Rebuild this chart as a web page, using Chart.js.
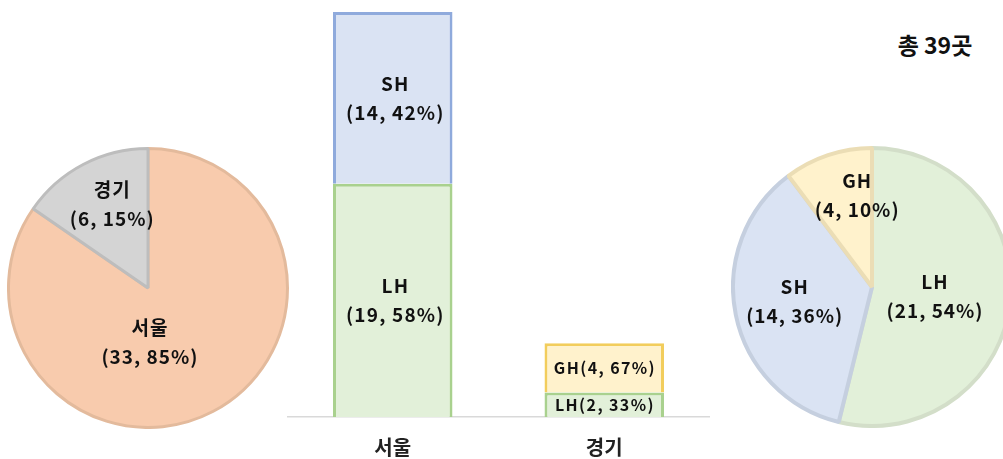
<!DOCTYPE html>
<html>
<head>
<meta charset="utf-8">
<script src="https://cdn.jsdelivr.net/npm/chart.js@4"></script>
<style>
  html, body { margin: 0; padding: 0; background: #fff; width: 1003px; height: 459px; overflow: hidden; }
  .box { position: absolute; }
  #title { position: absolute; left: 880px; top: 27px; width: 110px; text-align: center;
           font: bold 23px "Noto Sans CJK KR", sans-serif; color: #111; }
</style>
</head>
<body>
<div class="box" style="left:7px;top:147px;width:282px;height:282px;"><canvas id="regionPie"></canvas></div>
<div class="box" style="left:287px;top:0px;width:423px;height:473px;"><canvas id="stackBar"></canvas></div>
<div class="box" style="left:731px;top:146px;width:282px;height:282px;"><canvas id="agencyPie"></canvas></div>
<div id="title">총 39곳</div>
<script>
// data
const regions = ['서울', '경기'];
const regionCounts = [33, 6];

const agencies = ['LH', 'SH', 'GH'];
const lhByRegion = [19, 2];
const shByRegion = [14, 0];
const ghByRegion = [0, 4];
const agencyCounts = [21, 14, 4];

const FONT = '"Noto Sans CJK KR", "Noto Sans", sans-serif';
Chart.defaults.animation = false;
Chart.defaults.font.family = FONT;

function pct(v, total) { return Math.round(v / total * 100) + '%'; }

function drawLines(ctx, lines, x, y, size, gap, spacing) {
  ctx.save();
  ctx.font = 'bold ' + size + 'px ' + FONT;
  ctx.letterSpacing = spacing + 'px';
  ctx.fillStyle = '#111';
  ctx.textAlign = 'center';
  ctx.textBaseline = 'middle';
  const start = y - (lines.length - 1) * gap / 2;
  lines.forEach((t, i) => ctx.fillText(t, x + spacing / 2, start + i * gap));
  ctx.restore();
}

// labels inside pie slices, offsets are fractions of radius
const pieLabels = {
  id: 'pieLabels',
  afterDatasetsDraw(chart, args, opts) {
    const ctx = chart.ctx;
    const ds = chart.data.datasets[0];
    const total = ds.data.reduce((a, b) => a + b, 0);
    chart.getDatasetMeta(0).data.forEach((arc, i) => {
      const off = opts.offsets[i];
      const r = arc.outerRadius;
      const v = ds.data[i];
      drawLines(ctx, [chart.data.labels[i], '(' + v + ', ' + pct(v, total) + ')'],
        arc.x + off[0] * r, arc.y + off[1] * r, 19, 29, 1);
    });
  }
};

// labels centered in stacked bar segments
const barLabels = {
  id: 'barLabels',
  afterDatasetsDraw(chart) {
    const ctx = chart.ctx;
    const totals = chart.data.labels.map((_, j) =>
      chart.data.datasets.reduce((s, d) => s + d.data[j], 0));
    chart.data.datasets.forEach((d, i) => {
      chart.getDatasetMeta(i).data.forEach((bar, j) => {
        const v = d.data[j];
        if (!v) return;
        const h = bar.base - bar.y;
        const y = (bar.y + bar.base) / 2;
        const txt = '(' + v + ', ' + pct(v, totals[j]) + ')';
        if (h > 80) drawLines(ctx, [d.label, txt], bar.x + 2, y, 19, 29, 1.2);
        else drawLines(ctx, [d.label + txt], bar.x, y, 16, 20, 1.4);
      });
    });
  }
};

new Chart(document.getElementById('regionPie'), {
  type: 'pie',
  data: {
    labels: regions,
    datasets: [{
      data: regionCounts,
      backgroundColor: ['#F8CBAD', '#D4D4D4'],
      borderColor: ['#E3BA9C', '#BDBDBD'],
      borderWidth: 3
    }]
  },
  options: {
    responsive: true,
    maintainAspectRatio: false,
    plugins: {
      legend: { display: false },
      tooltip: { enabled: false },
      pieLabels: { offsets: [[0.01, 0.39], [-0.26, -0.6]] }
    }
  },
  plugins: [pieLabels]
});

new Chart(document.getElementById('agencyPie'), {
  type: 'pie',
  data: {
    labels: agencies,
    datasets: [{
      data: agencyCounts,
      backgroundColor: ['#E2F0D9', '#DAE3F3', '#FFF2CC'],
      borderColor: ['#D3DEC9', '#C5CFDF', '#EBDDB5'],
      borderWidth: 4
    }]
  },
  options: {
    responsive: true,
    maintainAspectRatio: false,
    plugins: {
      legend: { display: false },
      tooltip: { enabled: false },
      pieLabels: { offsets: [[0.45, 0.07], [-0.56, 0.1], [-0.11, -0.66]] }
    }
  },
  plugins: [pieLabels]
});

new Chart(document.getElementById('stackBar'), {
  type: 'bar',
  data: {
    labels: regions,
    datasets: [
      { label: 'LH', data: lhByRegion, backgroundColor: '#E2F0D9', borderColor: '#A9D18E', borderWidth: 3 },
      { label: 'SH', data: shByRegion, backgroundColor: '#DAE3F3', borderColor: '#8FAADC', borderWidth: 3 },
      { label: 'GH', data: ghByRegion, backgroundColor: '#FFF2CC', borderColor: '#F2CD5C', borderWidth: 3 }
    ]
  },
  options: {
    responsive: true,
    maintainAspectRatio: false,
    categoryPercentage: 1,
    barPercentage: 0.565,
    layout: { padding: { top: 12, left: 0, right: 0, bottom: 4 } },
    scales: {
      x: {
        stacked: true,
        grid: { display: false },
        border: { color: '#D9D9D9', width: 1.5 },
        ticks: { color: '#222', font: { size: 20, weight: 'bold' }, padding: 10 }
      },
      y: { stacked: true, display: false, min: 0, max: 33 }
    },
    plugins: { legend: { display: false }, tooltip: { enabled: false } }
  },
  plugins: [barLabels]
});
</script>
</body>
</html>
